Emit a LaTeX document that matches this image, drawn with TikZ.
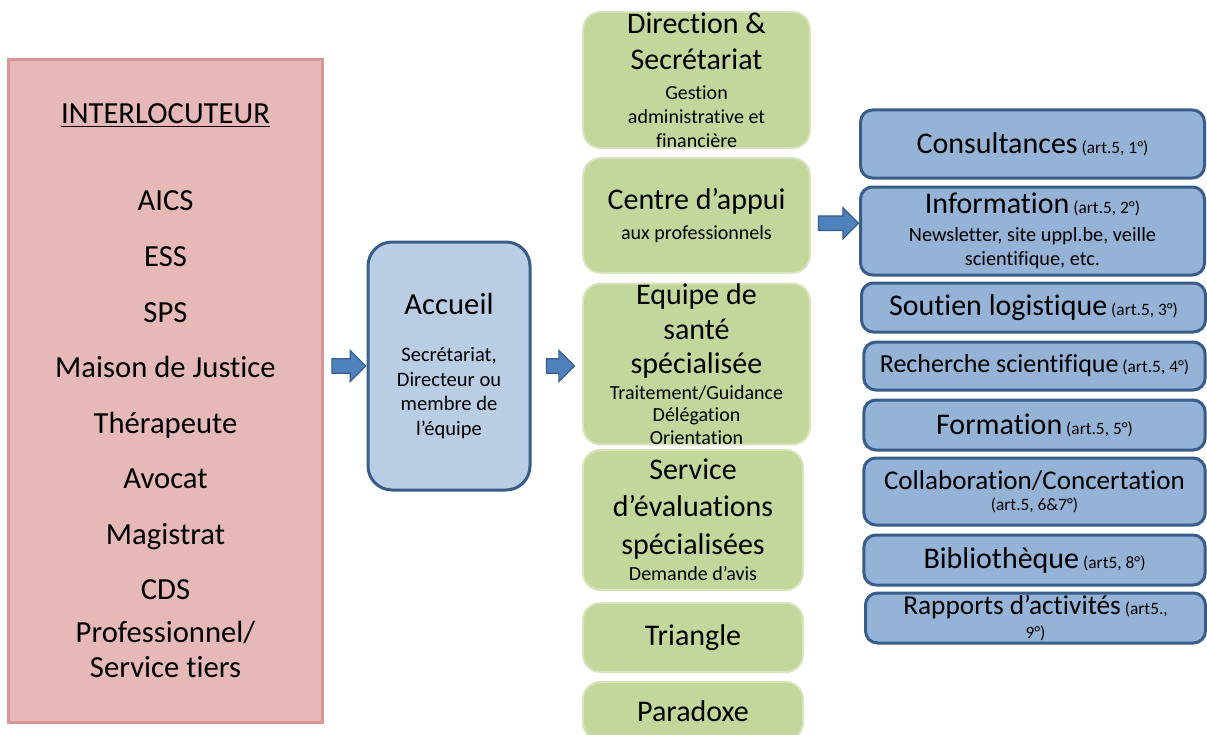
\documentclass[tikz,border=0pt]{standalone}
\usepackage{fontspec}
\setmainfont{Carlito}[Ligatures=NoCommon]
\usepackage{xcolor}
\definecolor{rosefond}{RGB}{230,185,184}
\definecolor{rosebord}{RGB}{217,150,148}
\definecolor{bleuclair}{RGB}{185,205,229}
\definecolor{bleumoyen}{RGB}{149,179,215}
\definecolor{bleubord}{RGB}{56,93,138}
\definecolor{bleufleche}{RGB}{79,129,189}
\definecolor{vertfond}{RGB}{195,214,155}
\definecolor{vertbord}{RGB}{215,228,188}
\usepackage{tikz}
\usetikzlibrary{
  shapes.arrows,
  positioning,
  calc
}
\newcommand{\ptxt}{\fontsize{15}{17}\selectfont}
\newcommand{\artref}[1]{{\fontsize{13}{15}\selectfont #1}}

\begin{document}
\begin{tikzpicture}[
  x=0.75pt, y=-0.75pt,
  interbox/.style={rectangle, draw=rosebord, line width=2.25pt, fill=rosefond, minimum width=235.5pt, minimum height=496.5pt, align=center, font=\fontsize{23}{26.25}\selectfont},
  accbox/.style={rectangle, draw=bleubord, line width=2.25pt, fill=bleuclair, rounded corners=18pt, minimum width=121.5pt, minimum height=186pt, align=center, inner sep=0pt, font=\fontsize{15.4}{18.5}\selectfont},
  pole/.style={rectangle, draw=vertbord, line width=1.5pt, fill=vertfond, rounded corners=13pt, minimum width=170pt, align=center, inner sep=0pt, font=\fontsize{22.5}{27}\selectfont},
  mission/.style={rectangle, draw=bleubord, line width=2.25pt, fill=bleumoyen, rounded corners=9pt, minimum width=258pt, align=center, inner sep=0pt, font=\fontsize{22.5}{27}\selectfont},
  fleche/.style={single arrow, draw=bleubord, line width=0.9pt, fill=bleufleche, inner xsep=0pt, inner ysep=5pt, minimum width=0pt, single arrow head extend=6.25pt}
]
  \useasboundingbox (0,0) rectangle (1207,735);

  % interlocuteurs
  \node[interbox] (interloc) at (165.5,391) {\underline{INTERLOCUTEUR}\\[39pt]
    AICS\\[15.4pt] ESS\\[15.4pt] SPS\\[15.4pt] Maison de Justice\\[15.4pt]
    Thérapeute\\[15.4pt] Avocat\\[15.4pt] Magistrat\\[15.4pt] CDS\\[6pt]
    Professionnel/\\ Service tiers};

  % accueil
  \node[accbox] (accueil) at (449,366) {{\fontsize{23}{27}\selectfont Accueil}\\[17pt]
    Secrétariat,\\ Directeur ou\\ membre de\\ l’équipe};

  % poles
  \node[pole, minimum height=102pt] (direction) at (696.5,80) {Direction \&\\ Secrétariat\\[-4.5pt]
    \ptxt Gestion\\[-9pt] \ptxt administrative et\\[-9pt] \ptxt financière};
  \node[pole, minimum height=86pt] (appui) at (696.5,215.5) {Centre d’appui\\[-5pt] \ptxt aux professionnels};
  \node[pole, minimum height=118.5pt] (equipe) at (696.5,364) {Equipe de\\[-1pt] santé\\[-1pt] spécialisée\\[-8pt]
    \ptxt Traitement/Guidance\\[-10pt] \ptxt Délégation\\[-10pt] \ptxt Orientation};
  \node[pole, minimum width=165pt, minimum height=105pt] (evaluation) at (693,520) {Service\\[1pt] d’évaluations\\[1pt] spécialisées\\[-7pt]
    \ptxt Demande d’avis};
  \node[pole, minimum width=165pt, minimum height=51.75pt] (triangle) at (693,637.5) {Triangle};
  \node[pole, minimum width=165pt, minimum height=43.5pt] (paradoxe) at (693,711) {Paradoxe};

  % missions
  \node[mission, minimum height=51pt] (consult) at (1032.5,144) {Consultances\artref{ (art.5, 1°)}};
  \node[mission, minimum height=66pt] (info) at (1032.5,231) {Information\artref{ (art.5, 2°)}\\[-6pt]
    \fontsize{15.2}{18}\selectfont Newsletter, site uppl.be, veille\\[-9pt]
    \fontsize{15.2}{18}\selectfont scientifique, etc.};
  \node[mission, minimum height=36.75pt] (soutien) at (1033.5,307.5) {Soutien logistique\artref{ (art.5, 3°)}};
  \node[mission, minimum width=256pt, minimum height=36pt] (recherche) at (1034.5,366) {\fontsize{19.5}{23}\selectfont Recherche scientifique\artref{ (art.5, 4°)}};
  \node[mission, minimum width=256pt, minimum height=37.5pt] (formation) at (1034.5,425) {Formation\artref{ (art.5, 5°)}};
  \node[mission, minimum width=256pt, minimum height=50.25pt] (collab) at (1034.5,491.5) {\fontsize{20.3}{24}\selectfont Collaboration/Concertation\\[-11pt]
    \artref{(art.5, 6\&7°)}};
  \node[mission, minimum width=256pt, minimum height=37.5pt] (biblio) at (1034.5,560) {Bibliothèque\artref{ (art5, 8°)}};
  \node[mission, minimum width=255pt, minimum height=37.5pt] (rapports) at (1035.5,618) {\fontsize{20.5}{24}\selectfont Rapports d’activités\artref{ (art5.,}\\[-9.4pt]
    \artref{9°)}};

  % fleches
  \node[fleche, minimum height=25.5pt] (fl1) at ($(interloc.east |- accueil.center)!0.5!(accueil.west)$) {};
  \node[fleche, minimum height=21pt] (fl2) at ($(accueil.east)!0.5!(equipe.west |- accueil.east)$) {};
  \node[fleche, minimum height=30pt] (fl3) at ($(appui.east)!0.5!(info.west)$) {};
\end{tikzpicture}
\end{document}
